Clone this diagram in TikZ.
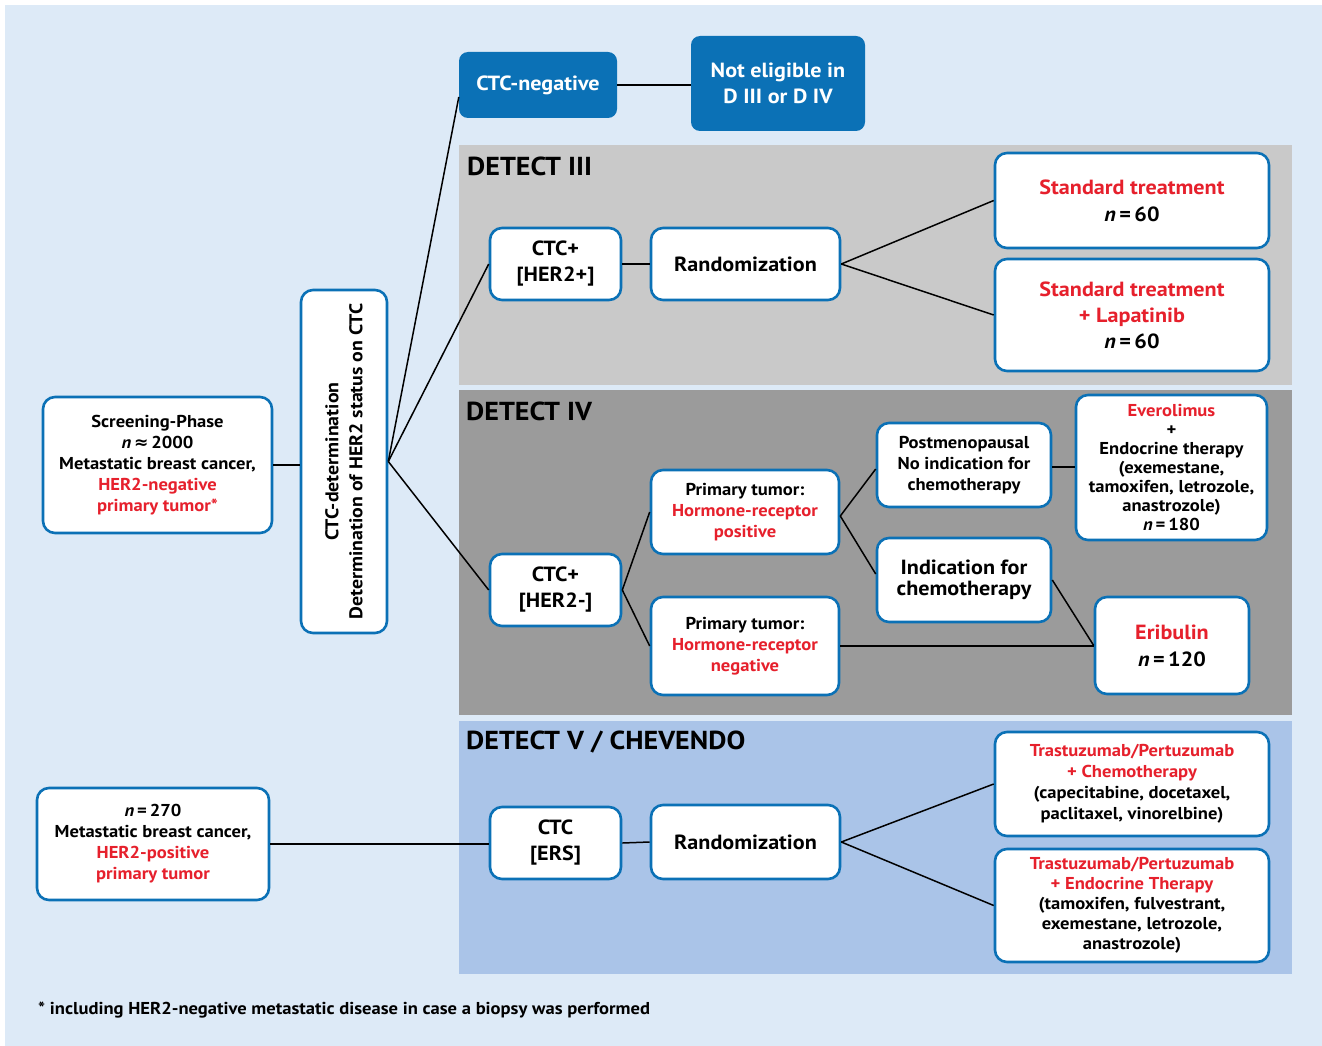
\documentclass[tikz,border=0pt]{standalone}
\usepackage{fontspec}
\setmainfont{PT Sans}[FakeStretch=1.08]
\newfontfamily\symf{DejaVu Sans}
\definecolor{bgblue}{HTML}{DDEAF7}
\definecolor{pthree}{HTML}{C9C9C9}
\definecolor{pfour}{HTML}{9B9B9B}
\definecolor{pfive}{HTML}{AAC4E8}
\definecolor{bblue}{HTML}{0B71B6}
\definecolor{tred}{HTML}{E6202C}
\newcommand{\rd}[1]{\textcolor{tred}{#1}}
\newcommand{\nn}{\textit{n}\,=\,}
\begin{document}
\begin{tikzpicture}[x=1pt,y=-1pt,
  box/.style={draw=bblue, line width=2.6pt, fill=white, rounded corners=12pt, align=center, inner sep=0pt, font=\bfseries\fontsize{17.2}{21}\selectfont},
  bigbox/.style={box, font=\bfseries\fontsize{20.5}{26}\selectfont},
  dbox/.style={fill=bblue, rounded corners=9pt, align=center, inner sep=0pt, text=white, font=\bfseries\fontsize{20.5}{26}\selectfont},
  conn/.style={line width=1.5pt, black},
  ttl/.style={anchor=west, inner sep=0pt, font=\bfseries\fontsize{26}{30}\selectfont}]
\useasboundingbox (0,0) rectangle (1322,1046);
\fill[white] (0,0) rectangle (1322,1046);
\fill[bgblue] (5,5) rectangle (1322,1046);
% panels
\fill[pthree] (459,145) rectangle (1292,385);
\fill[pfour] (459,390) rectangle (1292,715);
\fill[pfive] (459,721) rectangle (1292,974);
\node[ttl] (t3) at (467,166) {DETECT III};
\node[ttl] (t4) at (466,411) {DETECT IV};
\node[ttl] (t5) at (466,742) {DETECT V / CHEVENDO};
% nodes
\node[box, minimum width=229pt, minimum height=136pt] (scr) at (157.5,465) {Screening-Phase\\\textit{n}\,{\symf ≈}\,2000\\Metastatic breast cancer,\\\rd{HER2-negative}\\\rd{primary tumor*}};
\node[box, rotate=90, minimum width=343pt, minimum height=86pt, font=\bfseries\fontsize{18.4}{24}\selectfont] (det) at (344,461.5) {CTC-determination\\Determination of HER2 status on CTC};
\node[dbox, minimum width=158pt, minimum height=66pt] (neg) at (538,85) {CTC-negative};
\node[dbox, minimum width=174pt, minimum height=95pt] (nel) at (778,83.5) {Not eligible in\\D III or D IV};
\node[bigbox, minimum width=131pt, minimum height=72pt] (c3) at (555.5,264) {CTC+\\{[HER2+]}};
\node[bigbox, minimum width=189pt, minimum height=72pt] (r3) at (745.5,264) {Randomization};
\node[bigbox, minimum width=274pt, minimum height=95pt, font=\bfseries\fontsize{20.5}{27}\selectfont] (s1) at (1132,200.5) {\rd{Standard treatment}\\\nn 60};
\node[bigbox, minimum width=274pt, minimum height=112pt] (s2) at (1132,315) {\rd{Standard treatment}\\\rd{+ Lapatinib}\\\nn 60};
\node[bigbox, minimum width=131pt, minimum height=72pt] (c4) at (555.5,590) {CTC+\\{[HER2-]}};
\node[box, minimum width=188pt, minimum height=84pt] (pp) at (745,512) {Primary tumor:\\\rd{Hormone-receptor}\\\rd{positive}};
\node[box, minimum width=188pt, minimum height=98pt] (pn) at (745,646) {Primary tumor:\\\rd{Hormone-receptor}\\\rd{negative}};
\node[box, minimum width=174pt, minimum height=84pt] (pm) at (964,465) {Postmenopausal\\No indication for\\chemotherapy};
\node[bigbox, minimum width=174pt, minimum height=84pt, font=\bfseries\fontsize{20.5}{21.5}\selectfont] (ic) at (964,580) {Indication for\\chemotherapy};
\node[box, minimum width=191pt, minimum height=145pt, font=\bfseries\fontsize{17.2}{19}\selectfont] (ev) at (1171.5,467.5) {\rd{Everolimus}\\+\\Endocrine therapy\\(exemestane,\\tamoxifen, letrozole,\\anastrozole)\\\nn 180};
\node[bigbox, minimum width=154pt, minimum height=97pt, font=\bfseries\fontsize{20.5}{27}\selectfont] (er) at (1172,645.5) {\rd{Eribulin}\\\nn 120};
\node[box, minimum width=232pt, minimum height=112pt] (h2) at (153,844) {\nn 270\\Metastatic breast cancer,\\\rd{HER2-positive}\\\rd{primary tumor}};
\node[bigbox, minimum width=131pt, minimum height=72pt] (c5) at (555.5,843) {CTC\\{[ERS]}};
\node[bigbox, minimum width=189pt, minimum height=74pt] (r5) at (745.5,842) {Randomization};
\node[box, minimum width=274pt, minimum height=104pt] (tc) at (1132,784) {\rd{Trastuzumab/Pertuzumab}\\\rd{+ Chemotherapy}\\(capecitabine, docetaxel,\\paclitaxel, vinorelbine)};
\node[box, minimum width=274pt, minimum height=113pt, font=\bfseries\fontsize{17.2}{20}\selectfont] (te) at (1132,905.5) {\rd{Trastuzumab/Pertuzumab}\\\rd{+ Endocrine Therapy}\\(tamoxifen, fulvestrant,\\exemestane, letrozole,\\anastrozole)};
\node[anchor=west, inner sep=0pt, font=\bfseries\fontsize{17.2}{20}\selectfont] (fn) at (38,1010) {* including HER2-negative metastatic disease in case a biopsy was performed};
% connectors
\draw[conn] (scr.east) -- (scr.east -| det.north);
\draw[conn] (det.south) -- ([yshift=-12pt]neg.west);
\draw[conn] (det.south) -- (c3.west);
\draw[conn] (det.south) -- (c4.west);
\draw[conn] (neg.east) -- (neg.east -| nel.west);
\draw[conn] (c3.east) -- (r3.west);
\draw[conn] (r3.east) -- (s1.west);
\draw[conn] (r3.east) -- (s2.west);
\draw[conn] (c4.east) -- (pp.west);
\draw[conn] (c4.east) -- (pn.west);
\draw[conn] ([yshift=-4pt]pp.east) -- ([yshift=-4pt]pm.west);
\draw[conn] ([yshift=-4pt]pp.east) -- ([yshift=6pt]ic.west);
\draw[conn] ([yshift=-2pt]pm.east) -- ([yshift=-2pt]pm.east -| ev.west);
\draw[conn] (ic.east) -- (er.west);
\draw[conn] (pn.east) -- (pn.east -| er.west);
\draw[conn] (h2.east) -- (h2.east -| c5.west);
\draw[conn] (c5.east) -- (r5.west);
\draw[conn] (r5.east) -- (tc.west);
\draw[conn] (r5.east) -- (te.west);
\end{tikzpicture}
\end{document}
